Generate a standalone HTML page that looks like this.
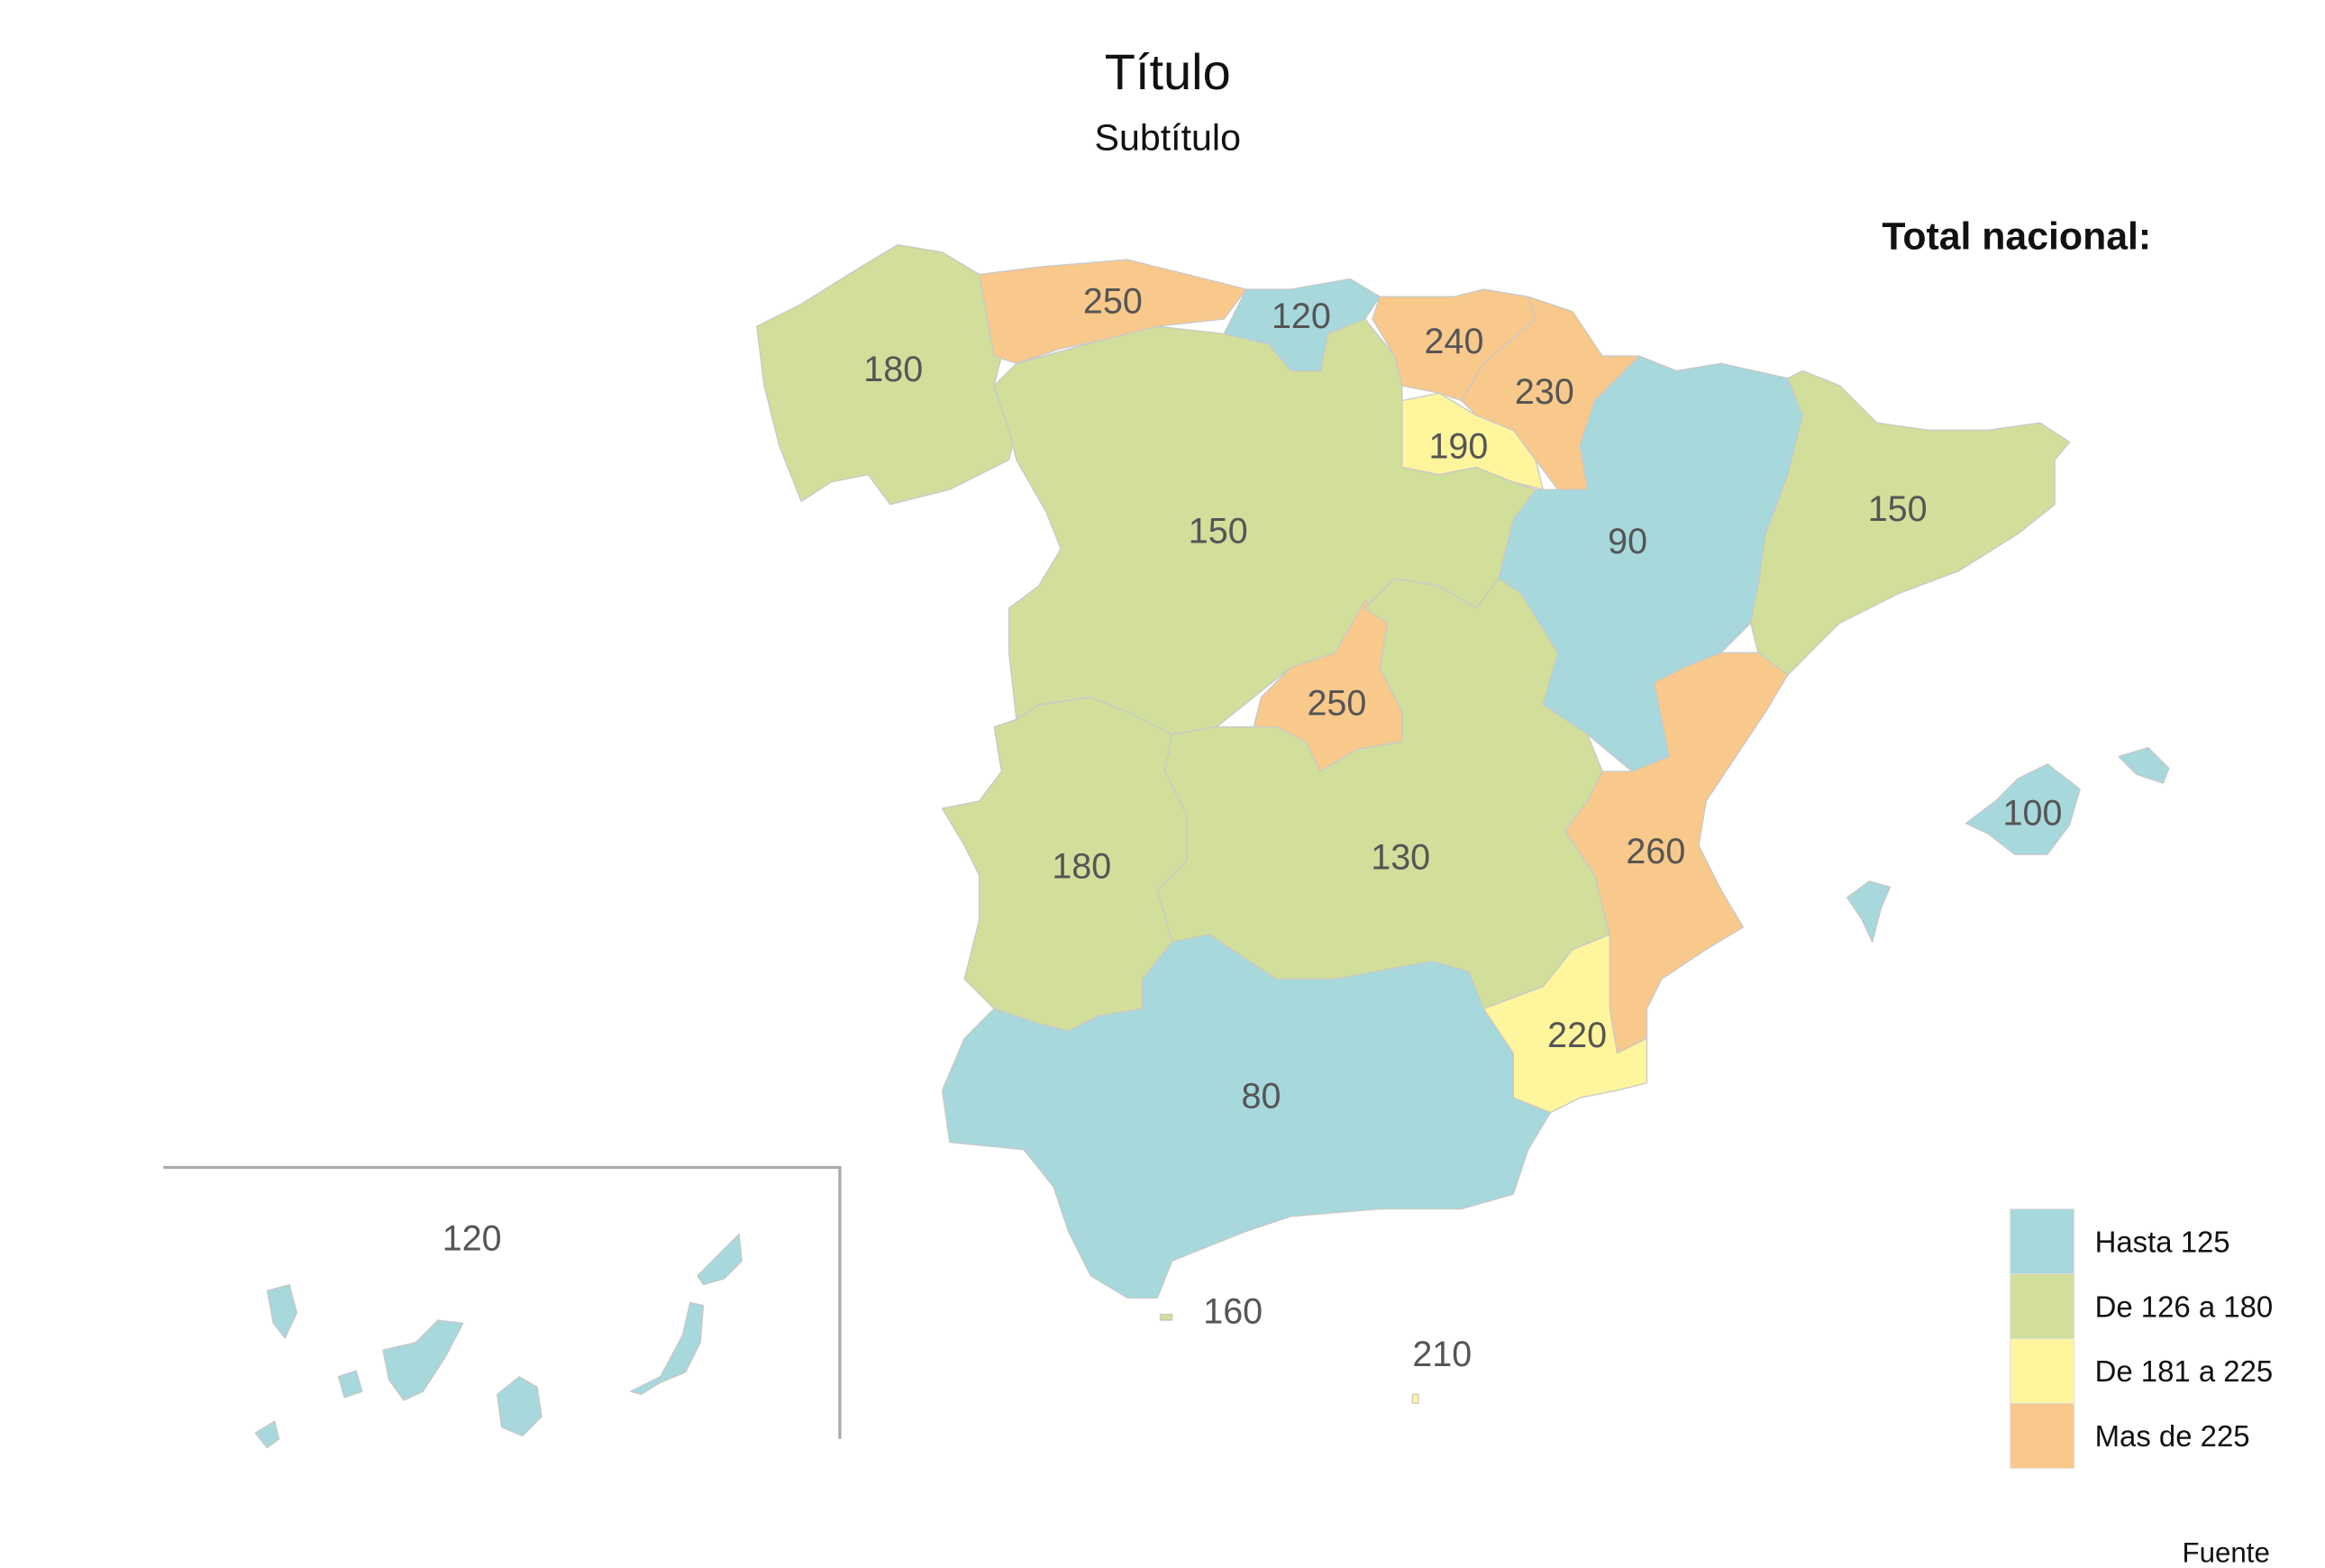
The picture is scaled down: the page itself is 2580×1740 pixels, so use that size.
<!DOCTYPE html>
<html><head><meta charset="utf-8"><style>
html,body{margin:0;padding:0;background:#fff}
svg{display:block}
text{font-family:"Liberation Sans",sans-serif}
</style></head><body>
<svg id="map" width="2580" height="1740" viewBox="0 0 1567 1057">
<text x="787" y="60" text-anchor="middle" font-size="34" fill="#111">Título</text>
<text x="787" y="101" text-anchor="middle" font-size="25" fill="#111">Subtítulo</text>
<text x="1450" y="168" text-anchor="end" font-size="26" font-weight="bold" fill="#111">Total nacional:</text>
<g id="regions"></g>
<g id="labels"></g>
<path d="M110 787 H566 V970" fill="none" stroke="#aaa" stroke-width="2"/>
<g id="legend"></g>
<text x="1530" y="1053" text-anchor="end" font-size="19" fill="#111">Fuente</text>
</svg>
<script>
const regionNames=["galicia","asturias","cantabria","pais-vasco","navarra","la-rioja","aragon","cataluna","castilla-leon","madrid","castilla-la-mancha","extremadura","andalucia","valencia","murcia","baleares","canarias","ceuta","melilla"];
const regionValues=[180,250,120,240,230,190,90,150,150,250,130,180,80,260,220,100,120,160,210];
const thresholds=[125,180,225];
const legendLabels=["Hasta 125","De 126 a 180","De 181 a 225","Mas de 225"];
const palette=["#a6d8dc","#d1df9b","#fff59d","#f9c98b"];
const shapes={
"galicia":["510,220 540,205 580,180 605,165 635,170 660,185 675,240 670,260 685,290 680,310 660,320 640,330 600,340 585,320 560,325 540,338 525,300 515,260"],
"asturias":["660,185 700,180 760,175 800,185 840,195 825,215 780,220 740,230 715,235 685,245 670,240"],
"cantabria":["840,195 870,195 910,188 930,200 920,215 895,225 890,250 870,250 855,232 825,225"],
"pais-vasco":["930,200 980,200 1000,195 1030,200 1035,215 1000,245 985,270 970,265 945,260 940,240 925,215"],
"navarra":["1030,200 1060,210 1080,240 1105,240 1090,255 1075,270 1065,300 1070,330 1050,330 1035,310 1020,290 995,280 985,270 1000,245 1035,215"],
"la-rioja":["945,270 970,265 995,280 1020,290 1035,310 1040,330 1020,325 995,315 970,320 945,315"],
"aragon":["1105,240 1130,250 1160,245 1205,255 1215,280 1205,320 1190,360 1185,395 1180,420 1160,440 1135,450 1115,460 1125,510 1100,520 1070,495 1040,475 1050,440 1025,400 1010,390 1020,350 1035,330 1070,330 1065,300 1075,270"],
"cataluna":["1205,255 1215,250 1240,260 1265,285 1300,290 1340,290 1375,285 1395,298 1385,310 1385,340 1360,360 1320,385 1280,400 1240,420 1220,440 1205,455 1185,440 1180,420 1185,395 1190,360 1205,320 1215,280"],
"castilla-leon":["670,260 685,245 740,230 780,220 825,225 855,232 870,250 890,250 895,225 920,215 940,240 945,260 945,315 970,320 995,315 1020,325 1035,330 1020,350 1010,390 995,410 970,395 940,390 920,410 900,440 870,450 845,470 820,490 790,495 760,480 735,470 700,475 685,485 680,440 680,410 700,395 715,370 705,345 685,310 680,290"],
"madrid":["870,450 900,440 920,405 935,420 930,450 945,480 945,500 915,505 890,520 880,500 860,490 845,490 850,470"],
"castilla-la-mancha":["790,495 820,490 845,490 860,490 880,500 890,520 915,505 945,500 945,480 930,450 935,420 920,410 940,390 970,395 995,410 1010,390 1025,400 1050,440 1040,475 1070,495 1080,520 1070,540 1055,560 1075,590 1085,630 1060,640 1040,665 1000,680 990,655 965,648 900,660 860,660 815,630 790,635 780,600 800,580 800,550 785,520"],
"extremadura":["685,485 700,475 735,470 760,480 790,495 785,520 800,550 800,580 780,600 790,635 770,660 770,680 740,685 720,695 700,690 670,680 650,660 660,620 660,590 650,570 635,545 660,540 675,520 670,490"],
"andalucia":["670,680 700,690 720,695 740,685 770,680 770,660 790,635 815,630 860,660 900,660 965,648 990,655 1000,680 1020,710 1020,740 1045,750 1030,775 1020,805 985,815 930,815 870,820 840,830 790,850 780,875 760,875 735,860 720,830 710,800 690,775 640,770 635,735 650,700"],
"valencia":["1135,450 1160,440 1185,440 1205,455 1190,480 1170,510 1150,540 1145,570 1160,600 1175,625 1150,640 1120,660 1110,680 1110,700 1090,710 1085,680 1085,630 1075,590 1055,560 1070,540 1080,520 1100,520 1125,510 1115,460"],
"murcia":["1000,680 1040,665 1060,640 1085,630 1085,680 1090,710 1110,700 1110,730 1090,735 1065,740 1045,750 1020,740 1020,710"],
"baleares":["1325,555 1345,540 1360,525 1380,515 1402,532 1395,556 1380,576 1358,576 1340,562","1428,510 1448,504 1462,518 1458,528 1440,522","1245,605 1260,594 1274,598 1268,612 1262,635 1255,620"],
"canarias":["180,870 195,866 200,885 192,902 184,892","228,928 240,924 244,938 232,942","258,910 280,905 295,890 312,892 300,915 285,938 272,944 262,930","335,940 350,928 362,935 365,955 352,968 338,962","172,966 185,958 188,970 180,976","425,938 445,928 460,900 465,878 474,880 472,905 462,925 445,932 432,940","470,860 485,845 498,832 500,850 488,862 474,866"],
"ceuta":["782,886 790,886 790,890 782,890"],
"melilla":["952,940 956,940 956,946 952,946"]
};
const labelPos={"galicia":[602,249],"asturias":[750,203],"cantabria":[877,213],"pais-vasco":[980,230],"navarra":[1041,264],"la-rioja":[983,301],"aragon":[1097,365],"cataluna":[1279,343],"castilla-leon":[821,358],"madrid":[901,474],"castilla-la-mancha":[944,578],"extremadura":[729,584],"andalucia":[850,739],"valencia":[1116,574],"murcia":[1063,698],"baleares":[1370,548],"canarias":[318,835],"ceuta":[831,884],"melilla":[972,913]};
function colorFor(v){let i=0;while(i<thresholds.length&&v>thresholds[i])i++;return palette[i];}
const NS="http://www.w3.org/2000/svg";
const gR=document.getElementById('regions'),gL=document.getElementById('labels'),gLeg=document.getElementById('legend');
regionNames.forEach((n,i)=>{
  const g=document.createElementNS(NS,'g');
  
  
  shapes[n].forEach(pts=>{
    const p=document.createElementNS(NS,'polygon');
    p.setAttribute('points',pts);
    p.setAttribute('fill',colorFor(regionValues[i]));
    p.setAttribute('stroke','#c8c8c8');p.setAttribute('stroke-width','0.8');p.setAttribute('stroke-linejoin','round');
    
    
    g.appendChild(p);
  });
  gR.appendChild(g);
  const t=document.createElementNS(NS,'text');
  t.setAttribute('x',labelPos[n][0]);t.setAttribute('y',labelPos[n][1]+8);
  t.setAttribute('text-anchor','middle');t.setAttribute('font-size','24');t.setAttribute('fill','#555');
  t.textContent=regionValues[i];
  
  
  gL.appendChild(t);
});
legendLabels.forEach((l,i)=>{
  const r=document.createElementNS(NS,'rect');
  r.setAttribute('x',1355);r.setAttribute('y',815+i*43.7);r.setAttribute('width',43);r.setAttribute('height',43.7);
  r.setAttribute('fill',palette[i]);r.setAttribute('stroke','#ddd');r.setAttribute('stroke-width','0.6');
  
  
  gLeg.appendChild(r);
  const t=document.createElementNS(NS,'text');
  t.setAttribute('x',1412);t.setAttribute('y',844+i*43.7);t.setAttribute('font-size','20');t.setAttribute('fill','#111');
  t.textContent=l;
  
  
  gLeg.appendChild(t);
});
</script>
</body></html>
